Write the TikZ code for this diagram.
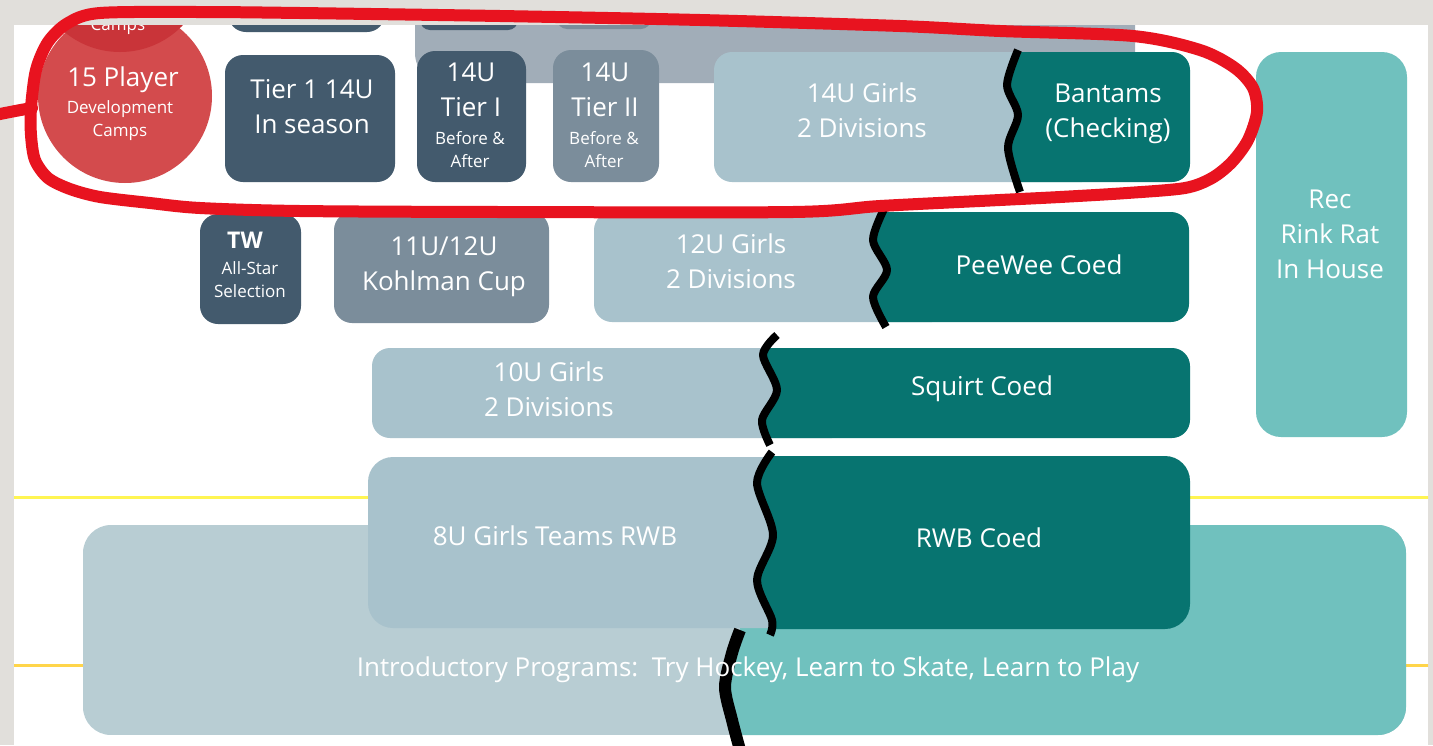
\documentclass[tikz,border=0pt]{standalone}
\usepackage{fontspec}
\setmainfont{Open Sans}
\definecolor{slide}{HTML}{E1DFDB}
\definecolor{slate}{HTML}{435A6D}
\definecolor{slatemid}{HTML}{7B8D9B}
\definecolor{slatelight}{HTML}{A1ADB8}
\definecolor{girls}{HTML}{A8C2CC}
\definecolor{intro}{HTML}{B8CDD3}
\definecolor{coed}{HTML}{077470}
\definecolor{rec}{HTML}{70C1BE}
\definecolor{camp}{HTML}{D34B4D}
\definecolor{campdark}{HTML}{C93439}
\definecolor{marker}{HTML}{E8131F}
\definecolor{lineA}{HTML}{FFF552}
\definecolor{lineB}{HTML}{FFD54A}
\begin{document}
\begin{tikzpicture}[x=1pt, y=-1pt, line cap=round, line join=round]
	\tikzset{box/.style={rounded corners=18pt},
		big/.style={text=white, align=center, font=\fontsize{26}{35}\selectfont},
		small/.style={text=white, align=center, font=\fontsize{17}{23}\selectfont},
		wave/.style={line width=8pt, black, line cap=butt},
		redmark/.style={line width=12pt, marker}}
	\useasboundingbox (0,0) rectangle (1433,745);
	\fill[slide] (0,0) rectangle (1433,745);
	\fill[white] (14,25) rectangle (1428,745);
	\begin{scope}
		\clip (14,25) rectangle (1428,745);
		\draw[lineA, line width=3pt] (14,497) -- (1428,497);
		\draw[lineB, line width=3pt] (14,665) -- (1428,665);
		% cut-off row above
		\fill[slatelight, rounded corners=30pt] (415,-20) rectangle (1135,83);
		\fill[slate, box] (228,-20) rectangle (385,32);
		\fill[slate, rounded corners=10pt] (420,-20) rectangle (518,30);
		\fill[slatemid, rounded corners=10pt] (557,-20) rectangle (651,29);
		\fill[camp] (125,96) circle (87pt);
		\fill[campdark] (120,-35) circle (87pt);
		\node[small] (camptop) at (118,26) {Camps};
		% row 1
		\fill[slate, box] (225,55) rectangle (395,182);
		\fill[slate, box] (417,51) rectangle (526,182);
		\fill[slatemid, box] (553,50) rectangle (659,182);
		\fill[girls, box] (714,52) rectangle (1100,182);
		\begin{scope}
			\clip[box] (990,52) rectangle (1190,182);
			\fill[coed] plot[smooth] coordinates {(1018,50) (1007,85) (1018,115) (1008,148) (1020,192)} -- (1200,200) -- (1200,40) -- cycle;
		\end{scope}
		\fill[rec, rounded corners=25pt] (1256,52) rectangle (1407,437);
		% row 2
		\fill[slate, box] (200,214) rectangle (301,324);
		\fill[slatemid, box] (334,212) rectangle (549,323);
		\fill[girls, box] (594,212) rectangle (950,322);
		\begin{scope}
			\clip[box] (860,212) rectangle (1189,322);
			\fill[coed] plot[smooth] coordinates {(885,207) (873,240) (887,270) (873,297) (886,327)} -- (1200,330) -- (1200,200) -- cycle;
		\end{scope}
		% row 3
		\fill[girls, box] (372,348) rectangle (850,438);
		\begin{scope}
			\clip[box] (750,348) rectangle (1190,438);
			\fill[coed] plot[smooth] coordinates {(777,335) (763,355) (777,390) (762,420) (770,445)} -- (1200,450) -- (1200,330) -- cycle;
		\end{scope}
		% introductory programs
		\begin{scope}
			\clip[rounded corners=28pt] (83,525) rectangle (1406,735);
			\fill[intro] (83,525) rectangle (1406,735);
			\fill[rec] (740,520) -- plot[smooth] coordinates {(740,630) (732,653) (725,687) (732,720) (740,750)} -- (1410,750) -- (1410,520) -- cycle;
		\end{scope}
		% row 4
		\fill[girls, rounded corners=25pt] (368,457) rectangle (850,628);
		\begin{scope}
			\clip[rounded corners=25pt] (750,456) rectangle (1190,629);
			\fill[coed] plot[smooth] coordinates {(772,452) (757,483) (773,535) (757,580) (772,620) (770,635)} -- (1200,640) -- (1200,450) -- cycle;
		\end{scope}
		% breaks
		\draw[wave] plot[smooth] coordinates {(1018,50) (1007,85) (1018,115) (1008,148) (1020,192)};
		\draw[wave] plot[smooth] coordinates {(885,207) (873,240) (887,270) (873,297) (886,327)};
		\draw[wave] plot[smooth] coordinates {(777,335) (763,355) (777,390) (762,420) (770,445)};
		\draw[wave] plot[smooth] coordinates {(772,452) (757,483) (773,535) (757,580) (772,620) (770,635)};
		\draw[wave, line width=12pt] plot[smooth] coordinates {(740,630) (732,653) (725,687) (732,720) (740,750)};
	\end{scope}
	% labels
	\node[big] (campbig) at (123,80) {15 Player};
	\node[small] (campsmall) at (120,121) {Development\\Camps};
	\node[big] (tier1) at (312,107) {Tier 1 14U\\In season};
	\node[big] (tierI) at (471,90) {14U\\Tier I};
	\node[small] (tierIba) at (470,150) {Before \&\\After};
	\node[big] (tierII) at (605,90) {14U\\Tier II};
	\node[small] (tierIIba) at (604,150) {Before \&\\After};
	\node[big] (girls14) at (862,110) {14U Girls\\2 Divisions};
	\node[big] (bantams) at (1108,114) {Bantams\\(Checking)};
	\node[big, font=\bfseries\fontsize{23}{30}\selectfont] (tw) at (245,240) {TW};
	\node[small] (allstar) at (250,280) {All-Star\\Selection};
	\node[big] (kohlman) at (444,267) {11U/12U\\Kohlman Cup};
	\node[big] (girls12) at (731,261) {12U Girls\\2 Divisions};
	\node[big] (peewee) at (1039,265) {PeeWee Coed};
	\node[big] (girls10) at (549,389) {10U Girls\\2 Divisions};
	\node[big] (squirt) at (982,389) {Squirt Coed};
	\node[big] (rec) at (1330,234) {Rec\\Rink Rat\\In House};
	\node[big] (girls8) at (555,536) {8U Girls Teams RWB};
	\node[big] (rwb) at (979,538) {RWB Coed};
	\node[big] (introtext) at (748,670) {Introductory Programs:\ \ Try Hockey, Learn to Skate, Learn to Play};
	% red marker loop
	\draw[redmark] (-5,115) .. controls (10,112) and (20,110) .. (32,108);
	\draw[redmark] plot[smooth cycle] coordinates {(31,108) (36,70) (48,42) (68,23) (100,13) (200,12) (300,13) (500,16) (700,20) (900,26) (1000,31) (1133,36) (1200,50) (1235,68) (1253,88) (1257,112) (1248,140) (1232,162) (1212,178) (1185,188) (1127,193) (1060,197) (1000,200) (880,206) (793,212) (500,212) (300,211) (200,208) (150,203) (100,197) (70,189) (48,178) (35,160) (31,135)};
\end{tikzpicture}
\end{document}
